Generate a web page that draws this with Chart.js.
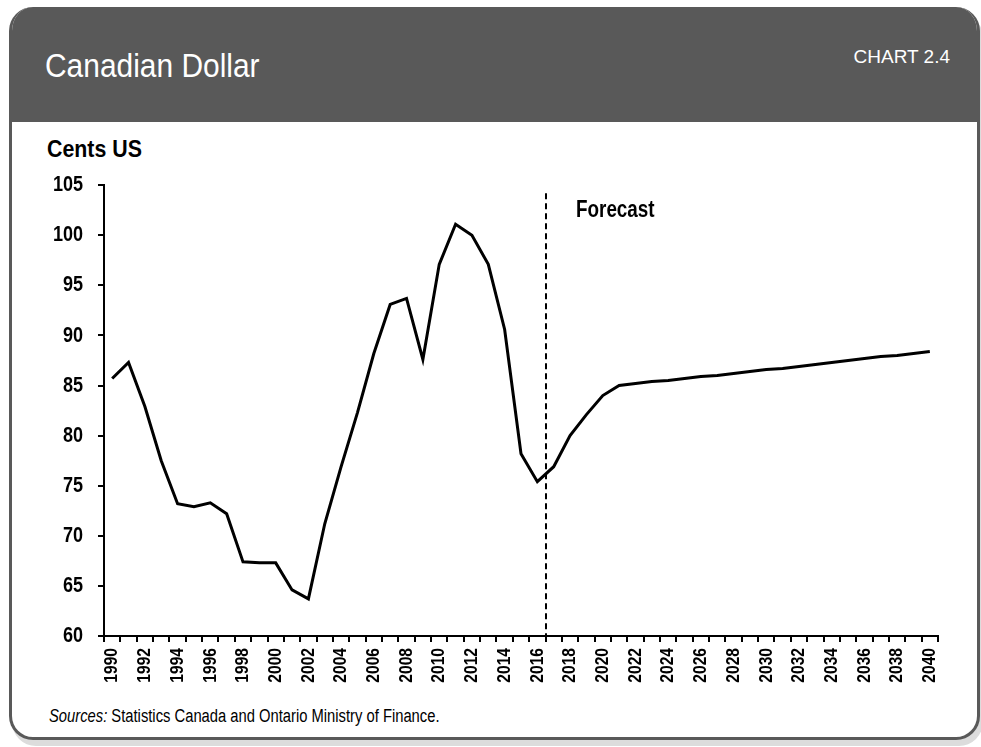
<!DOCTYPE html>
<html>
<head>
<meta charset="utf-8">
<script src="https://cdn.jsdelivr.net/npm/chart.js@4"></script>
<style>
  html, body { margin: 0; padding: 0; background: #fff; }
  body { width: 981px; height: 747px; position: relative; overflow: hidden;
         font-family: "Liberation Sans", Arial, sans-serif; }
  .card { position: absolute; left: 9px; top: 7px; width: 971px; height: 733px;
          box-sizing: border-box; border: 3px solid #595959; border-top: none;
          border-radius: 24px; background: #fff; box-shadow: 3px 6px 0 #dcdcdc; overflow: hidden; }
  .card-header { position: absolute; left: 0; top: 0; right: 0; height: 115px; background: #595959; }
  /* no narrow font installed, so squeeze Liberation Sans instead */
  .narrow { white-space: nowrap; transform-origin: left top; }
  .title { position: absolute; left: 33px; top: 39px; color: #fff; font-size: 34px; transform: scaleX(0.88); }
  .chart-no { position: absolute; right: 27px; top: 39px; color: #fff; font-size: 19px; white-space: nowrap; }
  .unit { position: absolute; left: 47px; top: 135px; font-size: 24px; font-weight: bold; color: #000; transform: scaleX(0.89); }
  .sources { position: absolute; left: 49px; top: 706px; font-size: 18px; color: #000; transform: scaleX(0.82); }
  #chart-wrap { position: absolute; left: 20px; top: 157px; width: 940px; height: 548px; }
</style>
</head>
<body>
<div class="card">
  <div class="card-header">
    <div class="title narrow">Canadian Dollar</div>
    <div class="chart-no">CHART 2.4</div>
  </div>
</div>
<div class="unit narrow">Cents US</div>
<div id="chart-wrap"><canvas id="chart-cad"></canvas></div>
<div class="sources narrow"><i>Sources:</i> Statistics Canada and Ontario Ministry of Finance.</div>

<script>
// Years on the x axis (only even years get a label)
const years = [
  '1990', '1991', '1992', '1993', '1994', '1995', '1996', '1997', '1998', '1999',
  '2000', '2001', '2002', '2003', '2004', '2005', '2006', '2007', '2008', '2009',
  '2010', '2011', '2012', '2013', '2014', '2015', '2016', '2017', '2018', '2019',
  '2020', '2021', '2022', '2023', '2024', '2025', '2026', '2027', '2028', '2029',
  '2030', '2031', '2032', '2033', '2034', '2035', '2036', '2037', '2038', '2039',
  '2040',
];

// Canadian dollar, cents US (2017 onward is the forecast)
const cadUsd = [
  85.7, 87.3, 82.9, 77.5, 73.2, 72.9, 73.3, 72.2, 67.4, 67.3,
  67.3, 64.6, 63.7, 71.2, 76.9, 82.3, 88.2, 93.1, 93.7, 87.6,
  97.1, 101.1, 100.0, 97.1, 90.6, 78.2, 75.4, 76.9, 80.0, 82.1,
  84.0, 85.0, 85.2, 85.4, 85.5, 85.7, 85.9, 86.0, 86.2, 86.4,
  86.6, 86.7, 86.9, 87.1, 87.3, 87.5, 87.7, 87.9, 88.0, 88.2,
  88.4,
];

// Y axis range and step
const yMin = 60;
const yMax = 105;
const yStep = 5;

// Forecast starts after this year
const lastActualYear = '2016';
const forecastLabel = 'Forecast';

const FONT = '"Liberation Sans", Arial, sans-serif';
const NARROW = 0.82; // horizontal squeeze to look like Arial Narrow

/**
 * Dashed separator between actual and forecast, plus its label
 */
const forecastPlugin = {
  id: 'forecast',
  afterDatasetsDraw(chart) {
    const { ctx, chartArea, scales } = chart;
    const i = years.indexOf(lastActualYear);
    const x = Math.round((scales.x.getPixelForValue(i) + scales.x.getPixelForValue(i + 1)) / 2);

    ctx.save();
    ctx.strokeStyle = '#000';
    ctx.lineWidth = 2;
    ctx.setLineDash([6, 4]);
    ctx.beginPath();
    ctx.moveTo(x, chartArea.top + 8);
    ctx.lineTo(x, chartArea.bottom);
    ctx.stroke();

    ctx.setLineDash([]);
    ctx.fillStyle = '#000';
    ctx.font = `bold 23px ${FONT}`;
    ctx.textAlign = 'left';
    ctx.textBaseline = 'alphabetic';
    ctx.fillText(forecastLabel, x + 30, chartArea.top + 32);
    ctx.restore();
  },
};

/**
 * Squeeze every text the chart draws on this canvas
 */
function narrowText(ctx) {
  const rawFillText = ctx.fillText.bind(ctx);
  ctx.fillText = function (text, x, y) {
    ctx.save();
    ctx.translate(x, y);
    ctx.scale(NARROW, 1);
    rawFillText(text, 0, 0);
    ctx.restore();
  };
}

/**
 * Render the line chart
 */
function renderChart() {
  const canvas = document.getElementById('chart-cad');
  narrowText(canvas.getContext('2d'));

  new Chart(canvas, {
    type: 'line',
    data: {
      labels: years,
      datasets: [
        {
          data: cadUsd,
          borderColor: '#000',
          borderWidth: 3,
          pointRadius: 0,
          tension: 0,
          fill: false,
        },
      ],
    },
    options: {
      responsive: true,
      maintainAspectRatio: false,
      animation: false,
      // top space comes from the y tick label height + padding
      layout: { padding: { top: 0, right: 22, left: 0, bottom: 0 } },
      plugins: {
        legend: { display: false },
        tooltip: { enabled: false },
      },
      scales: {
        x: {
          type: 'category',
          offset: true,
          afterFit: (scale) => { scale.height = 69; },
          border: { color: '#000', width: 2 },
          grid: { offset: true, drawOnChartArea: false, drawTicks: true, tickLength: 6, color: '#000', lineWidth: 2 },
          ticks: {
            autoSkip: false,
            minRotation: 90,
            maxRotation: 90,
            padding: 6,
            color: '#000',
            font: { family: FONT, size: 19, weight: 'bold' },
            callback: (value, index) => (index % 2 === 0 ? years[index] : ''),
          },
        },
        y: {
          min: yMin,
          max: yMax,
          afterFit: (scale) => { scale.width = 84; },
          border: { color: '#000', width: 2 },
          grid: { drawOnChartArea: false, drawTicks: true, tickLength: 6, color: '#000', lineWidth: 2 },
          ticks: {
            stepSize: yStep,
            padding: 15,
            color: '#000',
            font: { family: FONT, size: 22, weight: 'bold' },
          },
        },
      },
    },
    plugins: [forecastPlugin],
  });
}

renderChart();
</script>
</body>
</html>
